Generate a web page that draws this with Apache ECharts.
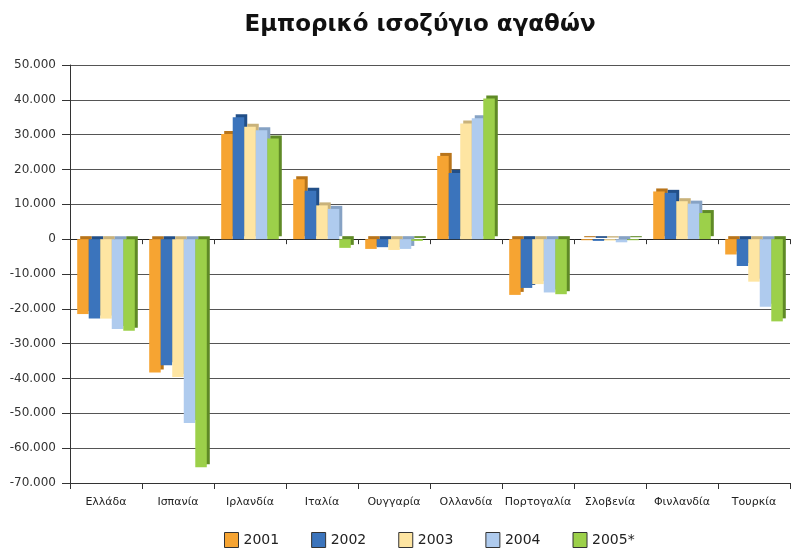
<!DOCTYPE html>
<html>
<head>
<meta charset="utf-8">
<script src="https://cdn.jsdelivr.net/npm/echarts@6/dist/echarts.min.js"></script>
<style>
  html, body { margin: 0; padding: 0; background: #fff; }
  #chart { width: 792px; height: 548px; }
</style>
</head>
<body>
<div id="chart"></div>
<script>
  // Χώρες και τιμές (εκατ. €) ανά έτος
  const categories = ['Ελλάδα', 'Ισπανία', 'Ιρλανδία', 'Ιταλία', 'Ουγγαρία', 'Ολλανδία', 'Πορτογαλία', 'Σλοβενία', 'Φινλανδία', 'Τουρκία'];
  const years = ['2001', '2002', '2003', '2004', '2005*'];
  const v2001 = [-21500, -38300, 30200, 17200, -2800, 23900, -16000, -300, 13700, -4400];
  const v2002 = [-22800, -36200, 35000, 13900, -2300, 19000, -14000, -500, 13300, -7700];
  const v2003 = [-22800, -39600, 32300, 9700, -3100, 33200, -12900, -400, 10900, -12200];
  const v2004 = [-25800, -52800, 31300, 8700, -2800, 34700, -15300, -900, 10200, -19400];
  const v2005 = [-26300, -65500, 28900, -2500, -500, 40400, -15800, -300, 7500, -23600];
  const yTicks = [-70000, 50000, 10000]; // min, max, interval

  const colors = ['#F6A432', '#3B74BC', '#FEE5A2', '#AFCBEE', '#9CD04A'];
  const sides = ['#B8741A', '#224F88', '#C9B27A', '#86A2C4', '#5F8A26'];
  const allValues = [v2001, v2002, v2003, v2004, v2005];

  const chart = echarts.init(document.getElementById('chart'));

  const series = years.map(function (y, i) {
    return {
      name: y,
      type: 'bar',
      data: allValues[i],
      barGap: '0%',
      barCategoryGap: '20%',
      itemStyle: {
        color: colors[i],
        shadowColor: sides[i],
        shadowOffsetX: 3,
        shadowOffsetY: -3,
        shadowBlur: 0
      },
      emphasis: { disabled: true }
    };
  });

  const option = {
    animation: false,
    textStyle: { fontFamily: 'DejaVu Sans' },
    title: {
      text: 'Εμπορικό ισοζύγιο αγαθών',
      left: 415,
      textAlign: 'center',
      top: 9,
      textStyle: { fontSize: 23, fontWeight: 'bold', color: '#111', fontFamily: 'DejaVu Sans' }
    },
    legend: {
      bottom: -5,
      left: 219,
      icon: 'rect',
      itemWidth: 14,
      itemHeight: 15,
      itemGap: 32,
      textStyle: { fontSize: 14, color: '#222' },
      itemStyle: { borderColor: '#333', borderWidth: 1 },
      data: years
    },
    grid: { left: 70, right: 2, top: 65, bottom: 65 },
    xAxis: [{
      type: 'category',
      data: categories,
      axisLine: { onZero: false, lineStyle: { color: '#333' } },
      axisTick: { show: true, length: 6, interval: 0, lineStyle: { color: '#333' } },
      axisLabel: { fontSize: 11, color: '#222', margin: 14, interval: 0 }
    }, {
      type: 'category',
      data: categories,
      position: 'bottom',
      axisLine: { onZero: true, lineStyle: { color: '#222' } },
      axisTick: { show: true, length: 5, interval: 0, lineStyle: { color: '#333' } },
      axisLabel: { show: false }
    }],
    yAxis: {
      type: 'value',
      min: yTicks[0],
      max: yTicks[1],
      interval: yTicks[2],
      axisLine: { show: true, lineStyle: { color: '#333' } },
      axisTick: { show: true, length: 8, lineStyle: { color: '#333' } },
      splitLine: { lineStyle: { color: '#555', width: 1 } },
      axisLabel: {
        fontSize: 12,
        color: '#333',
        margin: 14,
        formatter: function (v) {
          if (v === 0) return '0';
          const s = Math.abs(v).toString().replace(/\B(?=(\d{3})+(?!\d))/g, '.');
          return (v < 0 ? '-' : '') + s;
        }
      }
    },
    series: series
  };

  chart.setOption(option);
</script>
</body>
</html>
